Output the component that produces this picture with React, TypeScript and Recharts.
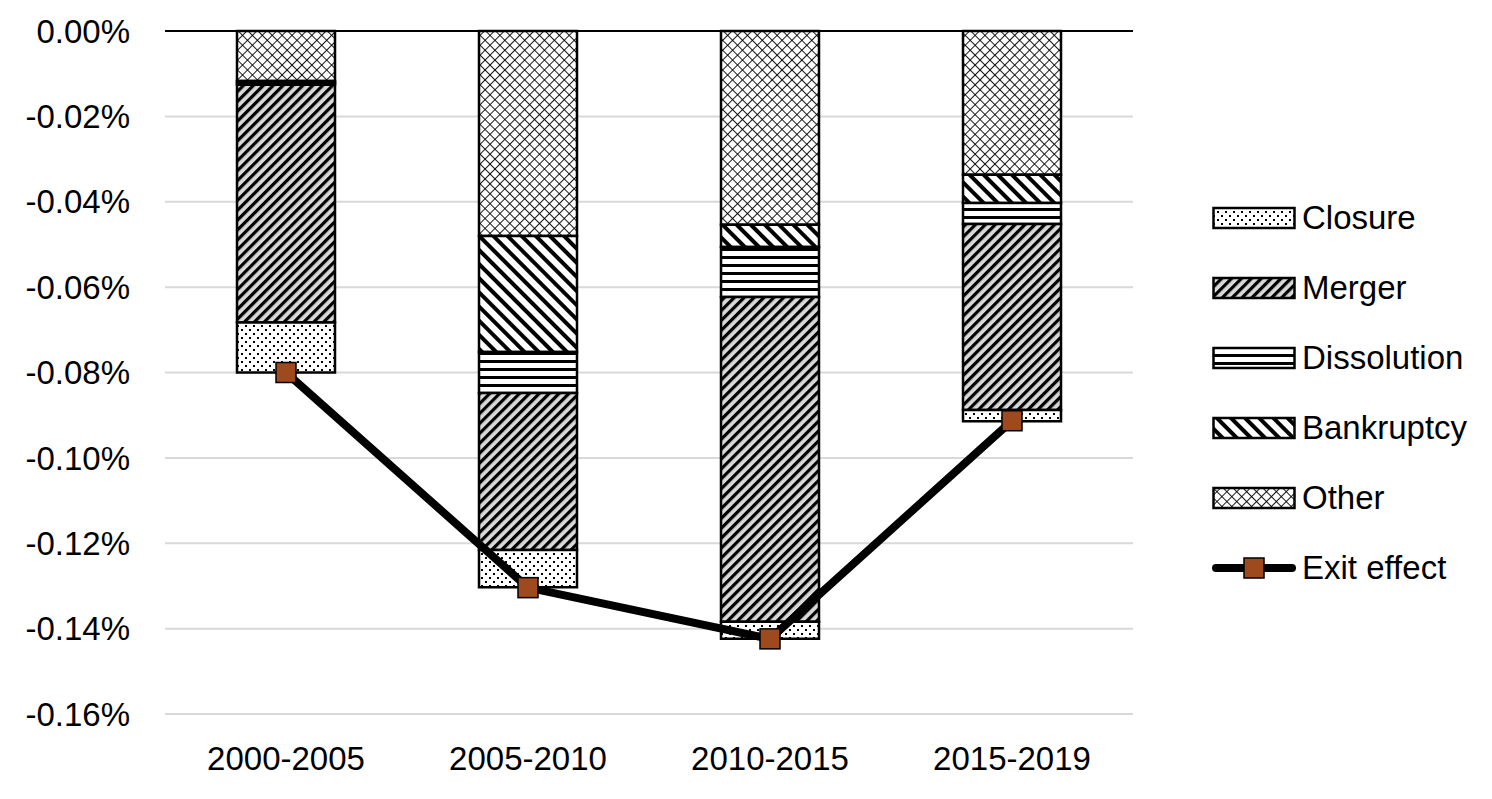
import React from 'react';
import {
  ComposedChart, Bar, Line, XAxis, YAxis, CartesianGrid,
  ReferenceLine
} from 'recharts';

const periods = ['2000-2005', '2005-2010', '2010-2015', '2015-2019'];
const other = [-0.0117, -0.048, -0.0454, -0.0337];
const bankruptcy = [-0.0004, -0.0272, -0.0052, -0.0066];
const dissolution = [-0.0005, -0.0096, -0.0117, -0.0049];
const merger = [-0.0557, -0.0368, -0.0761, -0.0436];
const closure = [-0.0117, -0.0087, -0.004, -0.0026];
const exitEffect = [-0.08, -0.1304, -0.1424, -0.0913];
const yTicks = [0, -0.02, -0.04, -0.06, -0.08, -0.1, -0.12, -0.14, -0.16];

const FONT = '"Liberation Sans", Arial, sans-serif';
const MARKER = '#9E4A1E';

const chartData = periods.map((p, i) => ({
  period: p,
  other: other[i],
  bankruptcy: bankruptcy[i],
  dissolution: dissolution[i],
  merger: merger[i],
  closure: closure[i],
  exit: exitEffect[i],
}));

const legendItems = [
  { key: 'closure', label: 'Closure', fill: 'url(#patClosure)' },
  { key: 'merger', label: 'Merger', fill: 'url(#patMerger)' },
  { key: 'dissolution', label: 'Dissolution', fill: 'url(#patDissolution)' },
  { key: 'bankruptcy', label: 'Bankruptcy', fill: 'url(#patBankruptcy)' },
  { key: 'other', label: 'Other', fill: 'url(#patOther)' },
];

const Patterns = () => (
  <defs>
    <pattern id="patClosure" patternUnits="userSpaceOnUse" width="8" height="8">
      <rect width="8" height="8" fill="#fff" />
      <rect x="1" y="1" width="2" height="2" fill="#000" />
      <rect x="5" y="5" width="2" height="2" fill="#000" />
    </pattern>
    <pattern id="patMerger" patternUnits="userSpaceOnUse" width="7" height="7" patternTransform="rotate(45)">
      <rect width="7" height="7" fill="#d9d9d9" />
      <rect width="3.2" height="7" fill="#000" />
    </pattern>
    <pattern id="patDissolution" patternUnits="userSpaceOnUse" width="8" height="8">
      <rect width="8" height="8" fill="#fff" />
      <rect y="0" width="8" height="3" fill="#000" />
    </pattern>
    <pattern id="patBankruptcy" patternUnits="userSpaceOnUse" width="10" height="10" patternTransform="rotate(-45)">
      <rect width="10" height="10" fill="#fff" />
      <rect width="4" height="10" fill="#000" />
    </pattern>
    <pattern id="patOther" patternUnits="userSpaceOnUse" width="7" height="7" patternTransform="rotate(45)">
      <rect width="7" height="7" fill="#fff" />
      <rect width="0.9" height="7" fill="#000" />
      <rect width="7" height="0.9" fill="#000" />
    </pattern>
  </defs>
);

const ChartLegend = () => (
  <div style={{
    position: 'absolute', left: 1212, top: 183, width: 280,
    fontFamily: FONT, fontSize: 33, color: '#000'
  }}>
    {legendItems.map((it) => (
      <div key={it.key} style={{ display: 'flex', alignItems: 'center', height: 70 }}>
        <svg width={88} height={24} style={{ marginRight: 2 }}>
          <rect x={1.5} y={2} width={81} height={20} fill={it.fill} stroke="#000" strokeWidth={2.5} />
        </svg>
        <span>{it.label}</span>
      </div>
    ))}
    <div style={{ display: 'flex', alignItems: 'center', height: 70 }}>
      <svg width={88} height={24} style={{ marginRight: 2 }}>
        <line x1={4} y1={12} x2={80} y2={12} stroke="#000" strokeWidth={8} strokeLinecap="round" />
        <rect x={32} y={2} width={20} height={20} fill={MARKER} stroke="#000" strokeWidth={1.5} />
      </svg>
      <span>Exit effect</span>
    </div>
  </div>
);

const SquareDot = (props: any) => {
  const { cx, cy, index } = props;
  if (cx == null || cy == null) return null;
  return (
    <rect key={`dot-${index}`} x={cx - 10} y={cy - 10} width={20} height={20}
      fill={MARKER} stroke="#000" strokeWidth={1.5} />
  );
};

export default function App() {
  return (
    <div style={{ position: 'absolute', left: 0, top: 0, width: 1492, height: 799, background: '#fff' }}>
      <ComposedChart
        width={1492}
        height={799}
        data={chartData}
        margin={{ top: 31, right: 359, left: 0, bottom: 0 }}
      >
        <Patterns />
        <CartesianGrid vertical={false} stroke="#d9d9d9" strokeWidth={2} />
        <XAxis
          dataKey="period"
          height={85}
          axisLine={false}
          tickLine={false}
          tickMargin={27}
          tick={{ fill: '#000', fontSize: 33, fontFamily: FONT }}
        />
        <YAxis
          width={165}
          domain={[-0.16, 0]}
          ticks={yTicks}
          interval={0}
          axisLine={false}
          tickLine={false}
          tickMargin={29}
          tickFormatter={(v: number) => `${v.toFixed(2)}%`}
          tick={{ fill: '#000', fontSize: 33, fontFamily: FONT }}
        />
        <ReferenceLine y={0} stroke="#000" strokeWidth={2} />
        <Bar dataKey="other" stackId="a" barSize={98} fill="url(#patOther)" stroke="#000" strokeWidth={2.5} isAnimationActive={false} />
        <Bar dataKey="bankruptcy" stackId="a" barSize={98} fill="url(#patBankruptcy)" stroke="#000" strokeWidth={2.5} isAnimationActive={false} />
        <Bar dataKey="dissolution" stackId="a" barSize={98} fill="url(#patDissolution)" stroke="#000" strokeWidth={2.5} isAnimationActive={false} />
        <Bar dataKey="merger" stackId="a" barSize={98} fill="url(#patMerger)" stroke="#000" strokeWidth={2.5} isAnimationActive={false} />
        <Bar dataKey="closure" stackId="a" barSize={98} fill="url(#patClosure)" stroke="#000" strokeWidth={2.5} isAnimationActive={false} />
        <Line
          dataKey="exit"
          type="linear"
          stroke="#000"
          strokeWidth={8}
          dot={<SquareDot />}
          activeDot={false}
          isAnimationActive={false}
        />
      </ComposedChart>
      <ChartLegend />
    </div>
  );
}
